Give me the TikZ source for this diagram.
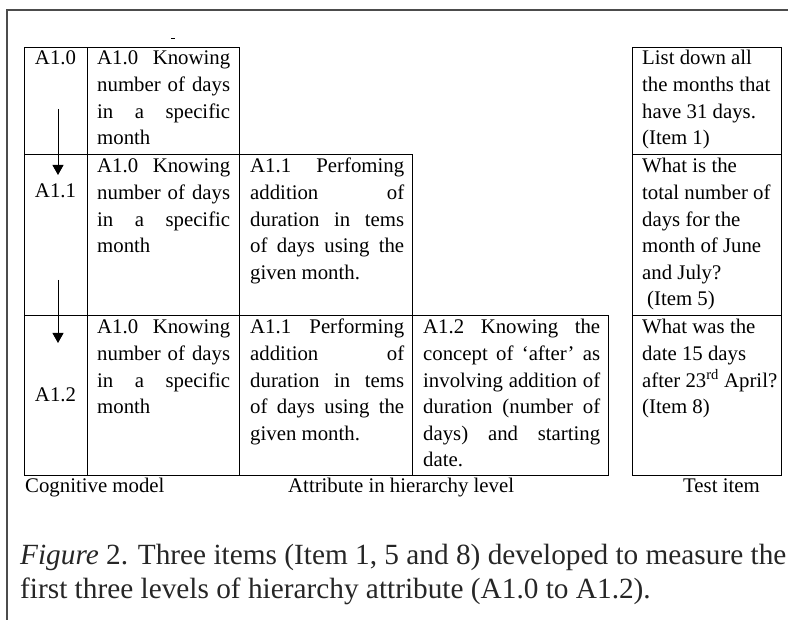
\documentclass[tikz,border=0pt]{standalone}
\usepackage{fontspec}
\setmainfont{Liberation Serif}
\usetikzlibrary{arrows.meta}
\newcommand{\jl}[1]{\makebox[\linewidth][s]{#1}\par}
\begin{document}
\begin{tikzpicture}[x=1pt,y=-1pt,
  cell/.style={draw=black, line width=1.1pt, inner sep=0pt, anchor=north west},
  txt/.style={inner sep=0pt, anchor=base west, font=\fontsize{20.8}{26.6}\selectfont},
  lab/.style={txt, anchor=base},
  figcap/.style={inner sep=0pt, anchor=base west, text=black!85, font=\fontsize{29.3}{34}\selectfont},
  arr/.style={line width=1pt, -{Triangle[length=10pt,width=11pt]}},
  frame/.style={draw=black!70, line width=1.6pt}]
\useasboundingbox (0,0) rectangle (788,620);
% outer frame
\coordinate (fb) at (7,620);
\coordinate (ftl) at (7,10);
\coordinate (ftr) at (788,10);
\draw[frame] (fb) -- (ftl) -- (ftr);
% small tick
\coordinate (d1) at (171,38);
\coordinate (d2) at (175,38);
\draw[line width=0.8pt] (d1) -- (d2);
% row 1
\node[cell, minimum width=63pt, minimum height=107pt] (r1c1) at (24,47) {};
\node[cell, minimum width=152pt, minimum height=107pt] (r1c2) at (87,47) {};
% row 2
\node[cell, minimum width=63pt, minimum height=161pt] (r2c1) at (24,154) {};
\node[cell, minimum width=152pt, minimum height=161pt] (r2c2) at (87,154) {};
\node[cell, minimum width=173pt, minimum height=161pt] (r2c3) at (239,154) {};
% row 3
\node[cell, minimum width=63pt, minimum height=160pt] (r3c1) at (24,315) {};
\node[cell, minimum width=152pt, minimum height=160pt] (r3c2) at (87,315) {};
\node[cell, minimum width=173pt, minimum height=160pt] (r3c3) at (239,315) {};
\node[cell, minimum width=196pt, minimum height=160pt] (r3c4) at (412,315) {};
% test items
\node[cell, minimum width=149pt, minimum height=107pt] (t1) at (632,47) {};
\node[cell, minimum width=149pt, minimum height=161pt] (t2) at (632,154) {};
\node[cell, minimum width=149pt, minimum height=160pt] (t3) at (632,315) {};
% level labels
\node[lab] (l1) at (55.5,65) {A1.0};
\node[lab] (l2) at (55.5,198) {A1.1};
\node[lab] (l3) at (55.5,402) {A1.2};
% arrows
\coordinate (a1s) at (58,109);
\coordinate (a1e) at (58,175);
\coordinate (a2s) at (58,280);
\coordinate (a2e) at (58,343);
\draw[arr] (a1s) -- (a1e);
\draw[arr] (a2s) -- (a2e);
% attribute texts
\node[txt] (x12) at (97,65) {\parbox[t]{133pt}{\jl{A1.0 Knowing}\jl{number of days}\jl{in a specific}month}};
\node[txt] (x22) at (97,173) {\parbox[t]{133pt}{\jl{A1.0 Knowing}\jl{number of days}\jl{in a specific}month}};
\node[txt] (x23) at (250,173) {\parbox[t]{154pt}{\jl{A1.1 Perfoming}\jl{addition of}\jl{duration in tems}\jl{of days using the}given month.}};
\node[txt] (x32) at (97,334) {\parbox[t]{133pt}{\jl{A1.0 Knowing}\jl{number of days}\jl{in a specific}month}};
\node[txt] (x33) at (250,334) {\parbox[t]{154pt}{\jl{A1.1 Performing}\jl{addition of}\jl{duration in tems}\jl{of days using the}given month.}};
\node[txt] (x34) at (423,334) {\parbox[t]{177pt}{\jl{A1.2 Knowing the}\jl{concept of ‘after’ as}\jl{involving addition of}\jl{duration (number of}\jl{days) and starting}date.}};
% test item texts
\node[txt] (y1) at (642,65) {\parbox[t]{140pt}{List down all\\the months that\\have 31 days.\\(Item 1)}};
\node[txt] (y2) at (642,173) {\parbox[t]{140pt}{What is the\\total number of\\days for the\\month of June\\and July?\\\hspace*{5pt}(Item 5)}};
\node[txt] (y3) at (642,334) {\parbox[t]{140pt}{What was the\\date 15 days\\after 23\textsuperscript{rd} April?\\(Item 8)}};
% column captions
\node[txt] (k1) at (25,493) {Cognitive model};
\node[txt] (k2) at (288,493) {Attribute in hierarchy level};
\node[txt] (k3) at (683,493) {Test item};
% figure caption
\node[figcap] (f1) at (20,564) {\textit{Figure} 2. Three items (Item 1, 5 and 8) developed to measure the};
\node[figcap] (f2) at (20,598) {first three levels of hierarchy attribute (A1.0 to A1.2).};
\end{tikzpicture}
\end{document}
